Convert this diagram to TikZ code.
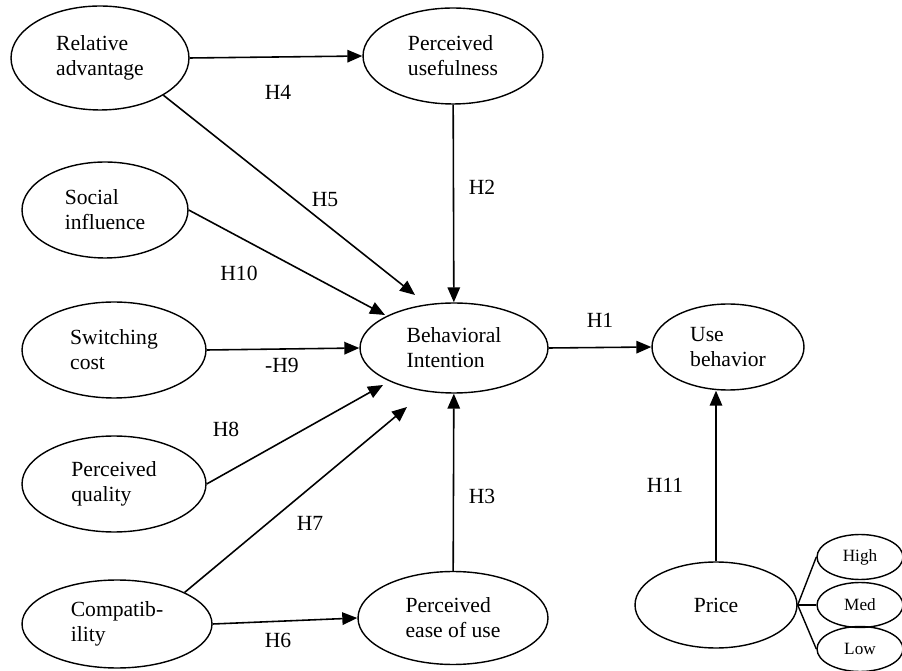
\documentclass[tikz,border=0pt]{standalone}
\usepackage{fontspec}
\setmainfont{Liberation Serif}
\usetikzlibrary{arrows.meta, shapes.geometric}

\begin{document}
\begin{tikzpicture}[x=0.02cm, y=-0.02cm,
  construct/.style={draw, ellipse, line width=0.8pt, align=left, inner sep=1pt,
    font=\fontsize{12.3}{14.2}\selectfont},
  level/.style={draw, ellipse, line width=0.8pt, inner sep=0pt,
    minimum width=1.72cm, minimum height=0.9cm, font=\fontsize{9.8}{11}\selectfont},
  hyp/.style={font=\fontsize{12.3}{14.2}\selectfont},
  link/.style={line width=0.9pt, -{Triangle[length=0.3cm, width=0.25cm]}},
  tie/.style={line width=0.8pt}]
  \useasboundingbox (0,0) rectangle (902,671);

  % costrutti
  \node[construct, minimum width=3.56cm, minimum height=2.08cm] (ra) at (100,58) {Relative\\advantage};
  \node[construct, minimum width=3.6cm, minimum height=1.92cm] (pu) at (453,56) {Perceived\\usefulness};
  \node[construct, minimum width=3.32cm, minimum height=1.92cm] (si) at (105,210) {Social\\influence};
  \node[construct, minimum width=3.68cm, minimum height=1.92cm] (sc) at (114,350) {Switching\\cost};
  \node[construct, minimum width=3.68cm, minimum height=1.92cm] (pq) at (114,484) {Perceived\\quality};
  \node[construct, minimum width=3.8cm, minimum height=1.76cm] (co) at (117,624) {Compatib-\\ility};
  \node[construct, minimum width=3.76cm, minimum height=1.8cm] (bi) at (454,348) {Behavioral\\Intention};
  \node[construct, minimum width=3.8cm, minimum height=1.86cm] (pe) at (453,618) {Perceived\\ease of use};
  \node[construct, minimum width=3.04cm, minimum height=1.72cm] (ub) at (728,347) {Use\\behavior};
  \node[construct, minimum width=3.24cm, minimum height=1.72cm] (pr) at (716,605) {Price};

  % livelli del prezzo
  \node[level] (hi) at (860,557) {High};
  \node[level] (me) at (860,605) {Med};
  \node[level] (lo) at (860,649) {Low};
  \draw[tie] (pr.east) -- (hi.west);
  \draw[tie] (pr.east) -- (me.west);
  \draw[tie] (pr.east) -- (lo.west);

  % punte libere
  \coordinate (h5end) at (415,295);
  \coordinate (h10end) at (385,315);
  \coordinate (h8end) at (383,385);
  \coordinate (h7end) at (407,407);

  % ipotesi
  \draw[link] (ra.east) -- (pu.west);
  \draw[link] (ra.south east) -- (h5end);
  \draw[link] (pu) -- (bi);
  \draw[link] (si.east) -- (h10end);
  \draw[link] (sc.east) -- (bi.west);
  \draw[link] (pq.east) -- (h8end);
  \draw[link] (co.north east) -- (h7end);
  \draw[link] (co.east) -- (pe.west);
  \draw[link] (pe) -- (bi);
  \draw[link] (bi.east) -- (ub.west);
  \draw[link] (pr.north) -- (pr.north |- ub.south);

  % etichette
  \node[hyp] (lh4) at (278,92) {H4};
  \node[hyp] (lh5) at (325,200) {H5};
  \node[hyp] (lh2) at (482,187) {H2};
  \node[hyp] (lh10) at (239,273) {H10};
  \node[hyp] (lh9) at (282,365) {-H9};
  \node[hyp] (lh8) at (226,429) {H8};
  \node[hyp] (lh7) at (310,523) {H7};
  \node[hyp] (lh6) at (278,640) {H6};
  \node[hyp] (lh3) at (482,496) {H3};
  \node[hyp] (lh1) at (600,320) {H1};
  \node[hyp] (lh11) at (665,485) {H11};
\end{tikzpicture}
\end{document}
